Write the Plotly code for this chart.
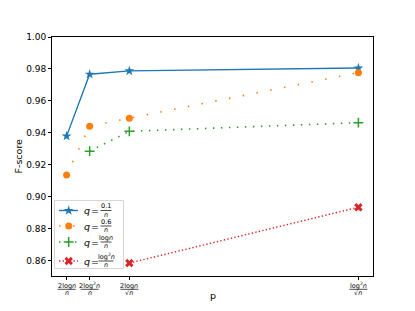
import plotly.graph_objects as go

# ---- data ----
p_positions = [0.0, 0.079, 0.215, 1.0]          # horizontal position of each p setting
p_numerators = ["2log<i>n</i>", "2log<sup>2</sup><i>n</i>", "2log<i>n</i>", "log<sup>2</sup><i>n</i>"]
p_denominators = ["<i>n</i>", "<i>n</i>", "√<i>n</i>", "√<i>n</i>"]

q_a = [0.9380, 0.9767, 0.9788, 0.9806]   # q = 0.1/n
q_b = [0.9137, 0.9442, 0.9492, 0.9777]   # q = 0.6/n
q_c_x = p_positions[1:]
q_c = [0.9286, 0.9410, 0.9464]           # q = log n / n
q_d_x = p_positions[2:]
q_d = [0.8586, 0.8935]                   # q = log^2 n / n

legend_num = ["0.1", "0.6", "log<i>n</i>", "log<sup>2</sup><i>n</i>"]
legend_den = ["<i>n</i>", "<i>n</i>", "<i>n</i>", "<i>n</i>"]

C_BLUE, C_ORANGE, C_GREEN, C_RED = "#1f77b4", "#ff7f0e", "#2ca02c", "#d62728"
FONT = "DejaVu Sans"

styles = [
    dict(line=dict(color=C_BLUE, width=1.4), marker=dict(symbol="star", size=7.5, color=C_BLUE)),
    dict(line=dict(color=C_ORANGE, width=1.6, dash="1.5px,12.5px"),
         marker=dict(symbol="circle", size=7, color=C_ORANGE)),
    dict(line=dict(color=C_GREEN, width=1.6, dash="1.5px,6.5px"),
         marker=dict(symbol="cross-thin", size=7, color=C_GREEN, line=dict(color=C_GREEN, width=1.5))),
    dict(line=dict(color=C_RED, width=1.4, dash="1.4px,2.2px"),
         marker=dict(symbol="x", size=7.5, color=C_RED)),
]

fig = go.Figure()
for (xs, ys), st in zip([(p_positions, q_a), (p_positions, q_b), (q_c_x, q_c), (q_d_x, q_d)], styles):
    fig.add_trace(go.Scatter(x=xs, y=ys, mode="lines+markers", line=st["line"],
                             marker=st["marker"], showlegend=False))

# ---- custom legend drawn in a local overlay axis (pixel-like units) ----
rows = [10.5, 26, 42, 61]
for st, ry in zip(styles, rows):
    fig.add_trace(go.Scatter(x=[5, 24], y=[ry, ry], mode="lines", line=st["line"],
                             xaxis="x2", yaxis="y2", showlegend=False, hoverinfo="skip"))
    fig.add_trace(go.Scatter(x=[14.7], y=[ry], mode="markers", marker=st["marker"],
                             xaxis="x2", yaxis="y2", showlegend=False, hoverinfo="skip"))

annotations = []
shapes = []
shapes.append(dict(type="rect", xref="x2", yref="y2", x0=0.5, x1=69.5, y0=0.5, y1=68.5,
                   line=dict(color="#d6d6d6", width=1), fillcolor="white", layer="below"))
FX = 52
for num, den, ry in zip(legend_num, legend_den, rows):
    annotations.append(dict(xref="x2", yref="y2", x=33, y=ry, xanchor="center", yanchor="middle",
                            text="<i>q</i>", showarrow=False, font=dict(family=FONT, size=9.5, color="black")))
    annotations.append(dict(xref="x2", yref="y2", x=41, y=ry, xanchor="center", yanchor="middle",
                            text="=", showarrow=False, font=dict(family=FONT, size=9.5, color="black")))
    annotations.append(dict(xref="x2", yref="y2", x=FX, y=ry - 4.4, xanchor="center", yanchor="middle",
                            text=num, showarrow=False, font=dict(family=FONT, size=6.5, color="black")))
    annotations.append(dict(xref="x2", yref="y2", x=FX, y=ry + 4.0, xanchor="center", yanchor="middle",
                            text=den, showarrow=False, font=dict(family=FONT, size=6.5, color="black")))
    hw = 7.5 if "sup" in num else 5.5
    shapes.append(dict(type="line", xref="x2", yref="y2", x0=FX - hw, x1=FX + hw, y0=ry, y1=ry,
                       line=dict(color="black", width=0.7)))

# ---- fraction tick labels on the p axis ----
for xv, num, den in zip(p_positions, p_numerators, p_denominators):
    annotations.append(dict(xref="x", yref="paper", x=xv, y=0, xanchor="center", yanchor="middle",
                            yshift=-9.5, text=num, showarrow=False,
                            font=dict(family=FONT, size=6.5, color="black")))
    annotations.append(dict(xref="x", yref="paper", x=xv, y=0, xanchor="center", yanchor="middle",
                            yshift=-17, text=den, showarrow=False,
                            font=dict(family=FONT, size=6.5, color="black")))
    shapes.append(dict(type="line", xref="x", yref="paper", xsizemode="pixel", ysizemode="pixel",
                       xanchor=xv, yanchor=0, x0=-9, x1=9, y0=-13.3, y1=-13.3,
                       line=dict(color="black", width=0.7)))

# axis titles as annotations so the plot area stays fixed
annotations.append(dict(xref="paper", yref="paper", x=0.5, y=0, yshift=-19, xanchor="center",
                        yanchor="middle", text="p", showarrow=False,
                        font=dict(family=FONT, size=9.5, color="black")))
annotations.append(dict(xref="paper", yref="paper", x=0, y=0.5, xshift=-34, xanchor="center",
                        yanchor="middle", text="F-score", textangle=-90, showarrow=False,
                        font=dict(family=FONT, size=9.5, color="black")))

# the page body adds an 8px offset, so the figure is sized to fit inside the window
W, H = 407, 303
L, R, T, B = 44, 42, 29, 35
pw, ph = W - L - R, H - T - B

fig.update_layout(
    width=W, height=H,
    margin=dict(l=L, r=R, t=T, b=B, autoexpand=False),
    paper_bgcolor="white", plot_bgcolor="white",
    font=dict(family=FONT, size=9, color="black"),
    xaxis=dict(range=[-0.05, 1.05], tickvals=p_positions, showticklabels=False,
               ticks="outside", ticklen=3, tickcolor="black", showgrid=False, zeroline=False,
               showline=True, linecolor="black", linewidth=1, mirror=True, automargin=False),
    yaxis=dict(range=[0.8505, 1.0], tickvals=[0.86, 0.88, 0.90, 0.92, 0.94, 0.96, 0.98, 1.00],
               tickformat=".2f", ticks="outside", ticklen=3, tickcolor="black",
               showgrid=False, zeroline=False, showline=True, linecolor="black", linewidth=1,
               mirror=True, tickfont=dict(size=9), automargin=False),
    xaxis2=dict(domain=[2 / pw, 72 / pw], range=[0, 70], visible=False,
                anchor="y2", fixedrange=True),
    yaxis2=dict(domain=[7 / ph, 76 / ph], range=[69, 0], visible=False,
                anchor="x2", fixedrange=True),
    annotations=annotations,
    shapes=shapes,
    showlegend=False,
)

fig.write_html("out.html")
